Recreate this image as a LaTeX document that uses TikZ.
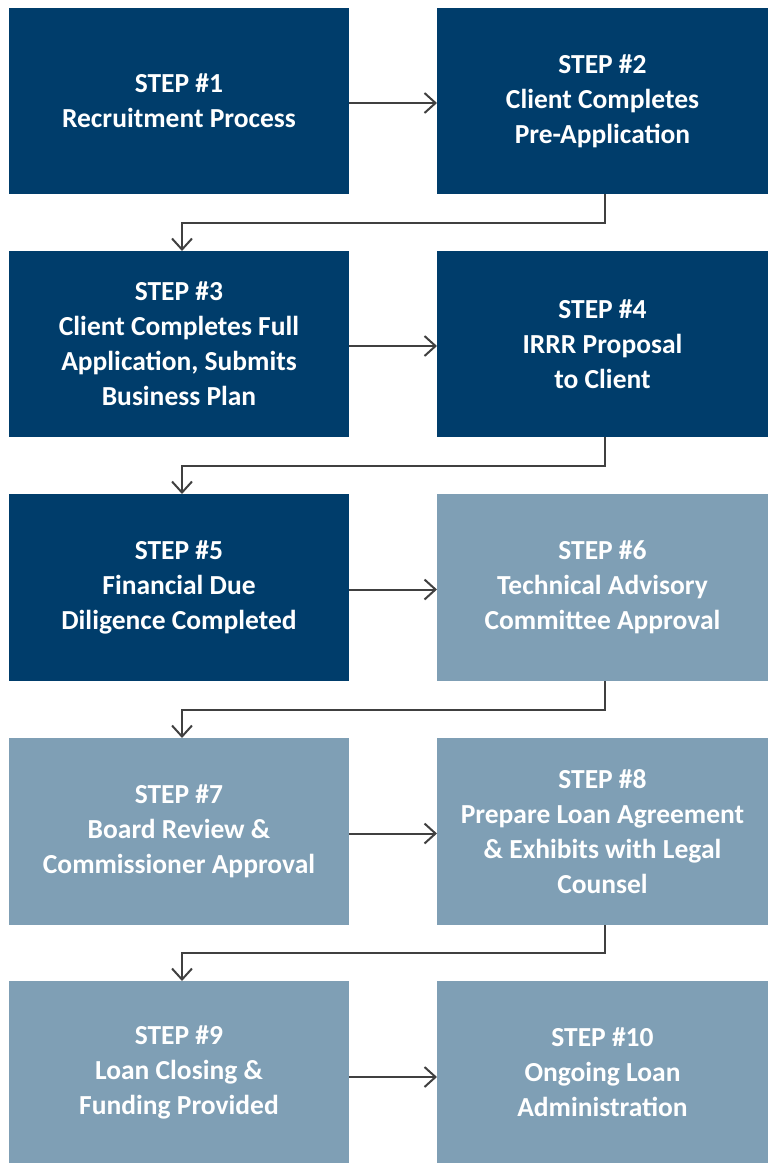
\documentclass[tikz,border=0pt]{standalone}
\usepackage{fontspec}
\setmainfont{Carlito}
\usetikzlibrary{arrows.meta}
\definecolor{darkbox}{HTML}{003D6B}
\definecolor{lightbox}{HTML}{7F9FB5}
\definecolor{arrowgray}{HTML}{404040}
\begin{document}
\begin{tikzpicture}[x=1pt,y=-1pt,
  stepbox/.style={anchor=north west,inner sep=0pt,outer sep=0pt,align=center,text=white,
    font=\bfseries\fontsize{27.5}{35}\selectfont},
  darkstep/.style={stepbox,fill=darkbox},
  lightstep/.style={stepbox,fill=lightbox},
  flow/.style={draw=arrowgray,line width=2pt,-{Straight Barb[length=11pt,width=20pt,line width=2pt]}}]
\useasboundingbox (0,0) rectangle (768,1163);
% row 1
\node[darkstep,minimum width=340pt,minimum height=186pt] (s1) at (9,8) {STEP \#1\\Recruitment Process};
\node[darkstep,minimum width=331pt,minimum height=186pt] (s2) at (437,8) {STEP \#2\\Client Completes\\Pre-Application};
% row 2
\node[darkstep,minimum width=340pt,minimum height=186pt] (s3) at (9,251) {STEP \#3\\Client Completes Full\\Application, Submits\\Business Plan};
\node[darkstep,minimum width=331pt,minimum height=186pt] (s4) at (437,251) {STEP \#4\\IRRR Proposal\\to Client};
% row 3
\node[darkstep,minimum width=340pt,minimum height=187pt] (s5) at (9,494) {STEP \#5\\Financial Due\\Diligence Completed};
\node[lightstep,minimum width=331pt,minimum height=187pt] (s6) at (437,494) {STEP \#6\\Technical Advisory\\Committee Approval};
% row 4
\node[lightstep,minimum width=340pt,minimum height=187pt] (s7) at (9,738) {STEP \#7\\Board Review \&\\Commissioner Approval};
\node[lightstep,minimum width=331pt,minimum height=187pt] (s8) at (437,738) {STEP \#8\\Prepare Loan Agreement\\\& Exhibits with Legal\\Counsel};
% row 5
\node[lightstep,minimum width=340pt,minimum height=182pt] (s9) at (9,981) {STEP \#9\\Loan Closing \&\\Funding Provided};
\node[lightstep,minimum width=331pt,minimum height=182pt] (s10) at (437,981) {STEP \#10\\Ongoing Loan\\Administration};
% horizontal arrows
\draw[flow] ([yshift=-2pt]s1.east) -- ([yshift=-2pt]s2.west);
\draw[flow] ([yshift=-2pt]s3.east) -- ([yshift=-2pt]s4.west);
\draw[flow] ([yshift=-2pt]s5.east) -- ([yshift=-2pt]s6.west);
\draw[flow] ([yshift=-2pt]s7.east) -- ([yshift=-2pt]s8.west);
\draw[flow] ([yshift=-5pt]s9.east) -- ([yshift=-5pt]s10.west);
% elbow arrows
\draw[flow] (s2.south -| 605,0) -- (605,223) -- (182,223) -- (s3.north -| 182,0);
\draw[flow] (s4.south -| 605,0) -- (605,466) -- (182,466) -- (s5.north -| 182,0);
\draw[flow] (s6.south -| 605,0) -- (605,710) -- (182,710) -- (s7.north -| 182,0);
\draw[flow] (s8.south -| 605,0) -- (605,953) -- (182,953) -- (s9.north -| 182,0);
\end{tikzpicture}
\end{document}
